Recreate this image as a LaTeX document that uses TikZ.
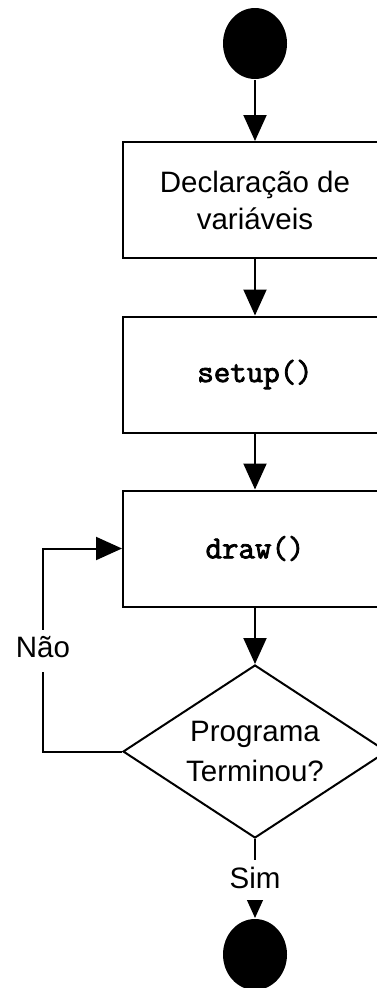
\documentclass[tikz,border=0pt]{standalone}
\usepackage{fontspec}
\setmainfont{Liberation Sans}
\newfontfamily\codefont{Latin Modern Mono}[FakeBold=2.5]
\usetikzlibrary{arrows.meta,shapes.geometric}
\begin{document}
\begin{tikzpicture}[x=1pt,y=-1pt,line width=2pt,
  proc/.style={draw, rectangle, minimum width=264pt, minimum height=116pt, inner sep=0pt,
    align=center, font=\fontsize{29.5}{37}\selectfont},
  codetxt/.style={font=\codefont\fontsize{32}{36}\selectfont},
  term/.style={ellipse, fill=black, minimum width=64pt, minimum height=71pt, inner sep=0pt},
  decision/.style={diamond, draw, minimum width=264pt, minimum height=173pt, inner sep=0pt,
    aspect=1.526, align=center, font=\fontsize{29.5}{40}\selectfont},
  flow/.style={-{Triangle[length=26pt,width=23pt]}},
  lbl/.style={fill=white, inner sep=0pt, text height=21pt, font=\fontsize{29.5}{36}\selectfont}]
\fill[white] (0,0) rectangle (377,988);
\clip (0,0) rectangle (377,988);
\node[term] (start) at (255,43.5) {};
\node[proc] (b1) at (255,200) {Declaração de\\variáveis};
\node[proc, codetxt] (b2) at (255,374.5) {setup()};
\node[proc, codetxt] (b3) at (255,548.5) {draw()};
\node[decision] (dec) at (255,751.5) {Programa\\Terminou?};
\node[term] (end) at (255,954.5) {};
\coordinate (lp) at (43,548.5);
\draw[flow] (start) -- (b1);
\draw[flow] (b1) -- (b2);
\draw[flow] (b2) -- (b3);
\draw[flow] (b3) -- (dec);
\draw[flow] (dec) -- (end);
\draw[flow] (dec.west) -| (lp) -- (b3.west);
\node[lbl, minimum height=42pt, text depth=8pt] (no) at (43,651) {Não};
\node[lbl, minimum height=40pt, text depth=4pt] (yes) at (255,880) {Sim};
\end{tikzpicture}
\end{document}
